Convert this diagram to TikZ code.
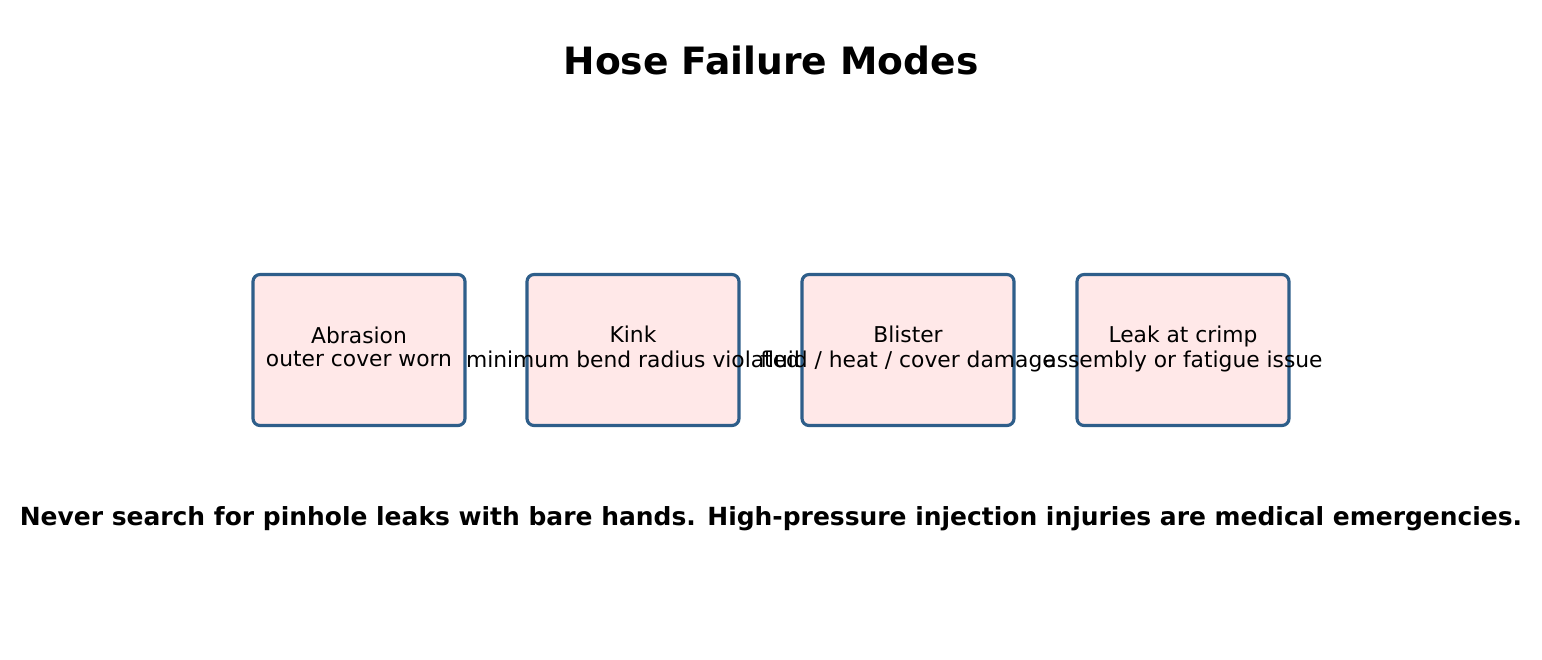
\documentclass[tikz,border=0pt]{standalone}
\usepackage{fontspec}
\setmainfont{DejaVu Sans}
\definecolor{boxedge}{HTML}{2E5E8A}
\definecolor{boxfill}{HTML}{FFE8E8}
\tikzset{
  mode/.style={draw=boxedge, fill=boxfill, line width=1.8pt, rounded corners=4pt,
    minimum width=4.24cm, minimum height=3.02cm, inner sep=0pt},
  modetext/.style={align=center, font=\fontsize{12.4}{13.2}\selectfont},
}
\begin{document}
\begin{tikzpicture}
\useasboundingbox (0,0) rectangle (30.84,-13.18);
% title
	\node[font=\bfseries\fontsize{21.4}{24}\selectfont] (title) at (15.42,-1.2) {Hose Failure Modes};

% failure boxes
	\node[mode] (abrasion) at (7.18,-7.0) {};
	\node[mode] (kink) at (12.66,-7.0) {};
	\node[mode] (blister) at (18.16,-7.0) {};
	\node[mode] (crimp) at (23.66,-7.0) {};

% box texts
	\node[modetext] (abrasiontext) at (abrasion) {Abrasion\strut\\outer cover worn\strut};
	\node[modetext] (kinktext) at (kink) {Kink\strut\\minimum bend radius violated\strut};
	\node[modetext] (blistertext) at (blister) {Blister\strut\\fluid / heat / cover damage\strut};
	\node[modetext] (crimptext) at (crimp) {Leak at crimp\strut\\assembly or fatigue issue\strut};

% warning
	\node[font=\bfseries\fontsize{14.2}{16}\selectfont] (warning) at (15.42,-10.38)
		{Never search for pinhole leaks with bare hands. High-pressure injection injuries are medical emergencies.};
\end{tikzpicture}
\end{document}
